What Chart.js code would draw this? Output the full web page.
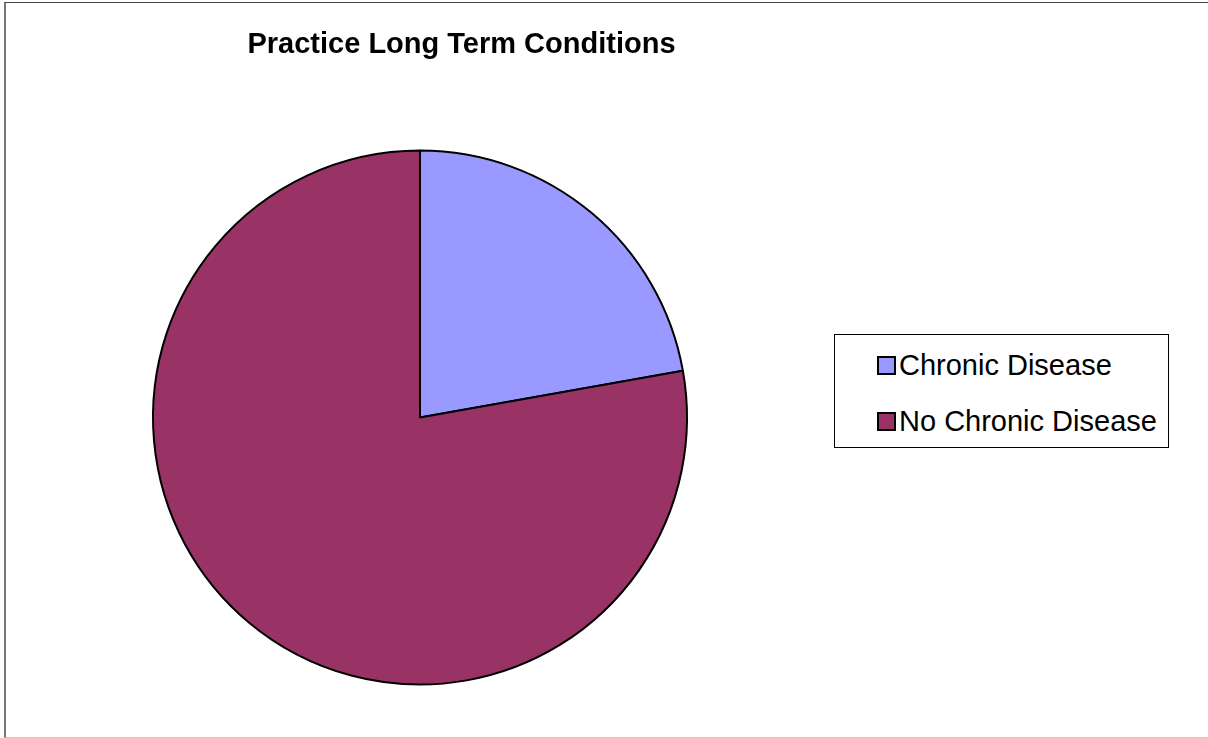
<!DOCTYPE html>
<html>
<head>
<meta charset="utf-8">
<script src="https://cdn.jsdelivr.net/npm/chart.js@4.4.1/dist/chart.umd.min.js"></script>
<style>
  html, body { margin: 0; padding: 0; background: #fff; }
  #wrap { position: relative; width: 1208px; height: 738px; overflow: hidden; font-family: "Liberation Sans", Arial, sans-serif; }
  #frame { position: absolute; left: 4px; top: 2px; width: 1210px; height: 734px; border-left: 2px solid #777; border-top: 1px solid #444; border-bottom: 1px solid #ccc; }
  #chartTitle { position: absolute; left: 0; width: 923px; top: 27px; text-align: center; font-weight: bold; font-size: 29px; color: #000; white-space: nowrap; }
  #legendBox { position: absolute; left: 834px; top: 334px; width: 335px; height: 114px; border: 1px solid #000; box-sizing: border-box; background: #fff; }
  .item { position: absolute; left: 42px; font-size: 29px; color: #000; white-space: nowrap; line-height: 1; }
  .swatch { display: inline-block; width: 15px; height: 15px; border: 2px solid #000; margin-right: 3px; vertical-align: 0px; }
  canvas { position: absolute; left: 0; top: 0; }
</style>
</head>
<body>
<div id="wrap">
  <div id="frame"></div>
  <canvas id="pieChart" width="1208" height="738"></canvas>
  <div id="chartTitle"></div>
  <div id="legendBox"></div>
</div>
<script>
const chartTitle = "Practice Long Term Conditions";
const categories = ["Chronic Disease", "No Chronic Disease"];
const shares = [22.2, 77.8];
const sliceColors = ["#9999FF", "#993366"];

document.getElementById("chartTitle").textContent = chartTitle;

const legendBox = document.getElementById("legendBox");
categories.forEach((name, i) => {
  const row = document.createElement("div");
  row.className = "item";
  row.style.top = (i === 0 ? 16 : 72) + "px";
  const sw = document.createElement("span");
  sw.className = "swatch";
  sw.style.background = sliceColors[i];
  row.appendChild(sw);
  row.appendChild(document.createTextNode(name));
  legendBox.appendChild(row);
});

const ctx = document.getElementById("pieChart").getContext("2d");

new Chart(ctx, {
  type: "pie",
  data: {
    labels: categories,
    datasets: [{
      data: shares,
      backgroundColor: sliceColors,
      borderColor: "#000",
      borderWidth: 2
    }]
  },
  options: {
    responsive: false,
    animation: false,
    layout: {
      padding: { left: 152, right: 520, top: 149, bottom: 52 }
    },
    plugins: {
      legend: { display: false },
      title: { display: false },
      tooltip: { enabled: false }
    }
  }
});
</script>
</body>
</html>
